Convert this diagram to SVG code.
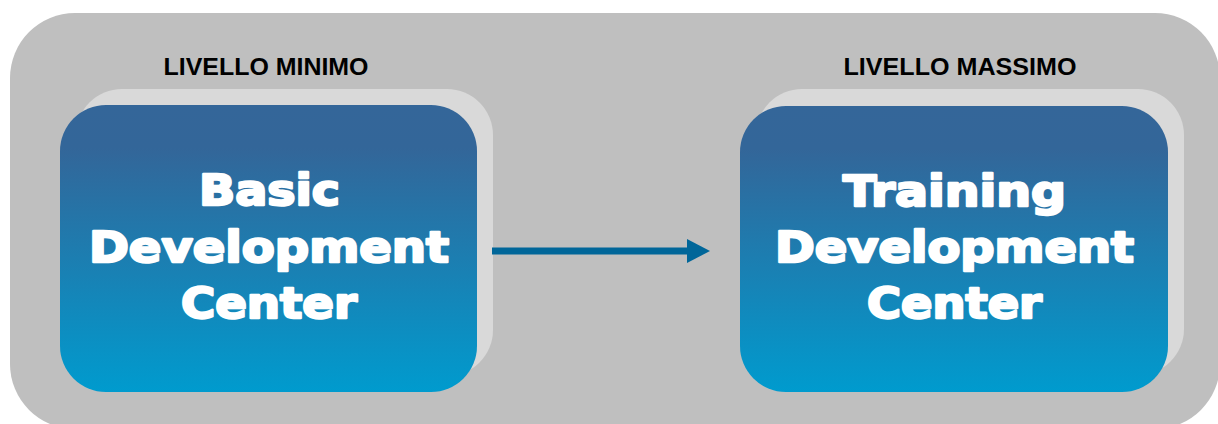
<svg xmlns="http://www.w3.org/2000/svg" width="1218" height="424" viewBox="0 0 1218 424">
  <defs>
    <linearGradient id="cardFill" x1="0" y1="0" x2="0" y2="1">
      <stop offset="0" stop-color="#346699"/>
      <stop offset="0.15" stop-color="#336699"/>
      <stop offset="1" stop-color="#009BCE"/>
    </linearGradient>
    <marker id="arrowHead" viewBox="0 0 23 24" refX="0" refY="12" markerWidth="23" markerHeight="24" markerUnits="userSpaceOnUse" orient="auto">
      <polygon points="0,0 23,12 0,24" fill="#006699"/>
    </marker>
    <style>
      .panel { fill: #BFBFBF; }
      .back { fill: #D9D9D9; }
      .card { fill: url(#cardFill); }
      .level { font-family: "Liberation Sans", Arial, sans-serif; font-weight: bold; font-size: 23.5px; fill: #000000; text-anchor: middle; }
      .title { font-family: "DejaVu Sans", "Liberation Sans", sans-serif; font-weight: bold; font-size: 43px; fill: #FFFFFF; stroke: #FFFFFF; stroke-width: 2.4; stroke-linejoin: round; text-anchor: middle; }
      .link { stroke: #006699; stroke-width: 7; fill: none; }
    </style>
  </defs>

  <!-- background panel -->
  <rect class="panel" x="10" y="13" width="1210" height="416" rx="65" ry="65"/>

  <!-- level headings -->
  <text class="level" x="266" y="75" textLength="205" lengthAdjust="spacingAndGlyphs">LIVELLO MINIMO</text>
  <text class="level" x="960" y="75" textLength="233" lengthAdjust="spacingAndGlyphs">LIVELLO MASSIMO</text>

  <!-- basic center -->
  <g id="basic-center">
    <rect class="back" x="76" y="89" width="417" height="287" rx="46" ry="46"/>
    <rect class="card" x="60" y="105" width="417" height="287" rx="46" ry="46"/>
    <text class="title" x="269.5" y="205" textLength="141" lengthAdjust="spacingAndGlyphs">Basic</text>
    <text class="title" x="269" y="262" textLength="360" lengthAdjust="spacingAndGlyphs">Development</text>
    <text class="title" x="269" y="318" textLength="176" lengthAdjust="spacingAndGlyphs">Center</text>
  </g>

  <!-- training center -->
  <g id="training-center">
    <rect class="back" x="756" y="89" width="428" height="286" rx="46" ry="46"/>
    <rect class="card" x="740" y="106" width="428" height="286" rx="46" ry="46"/>
    <text class="title" x="954.5" y="206" textLength="223" lengthAdjust="spacingAndGlyphs">Training</text>
    <text class="title" x="954.5" y="262" textLength="359" lengthAdjust="spacingAndGlyphs">Development</text>
    <text class="title" x="954.5" y="318" textLength="175" lengthAdjust="spacingAndGlyphs">Center</text>
  </g>

  <!-- connectors -->
  <g id="connectors">
    <line class="link" x1="492" y1="251" x2="687" y2="251" marker-end="url(#arrowHead)"/>
  </g>
</svg>
